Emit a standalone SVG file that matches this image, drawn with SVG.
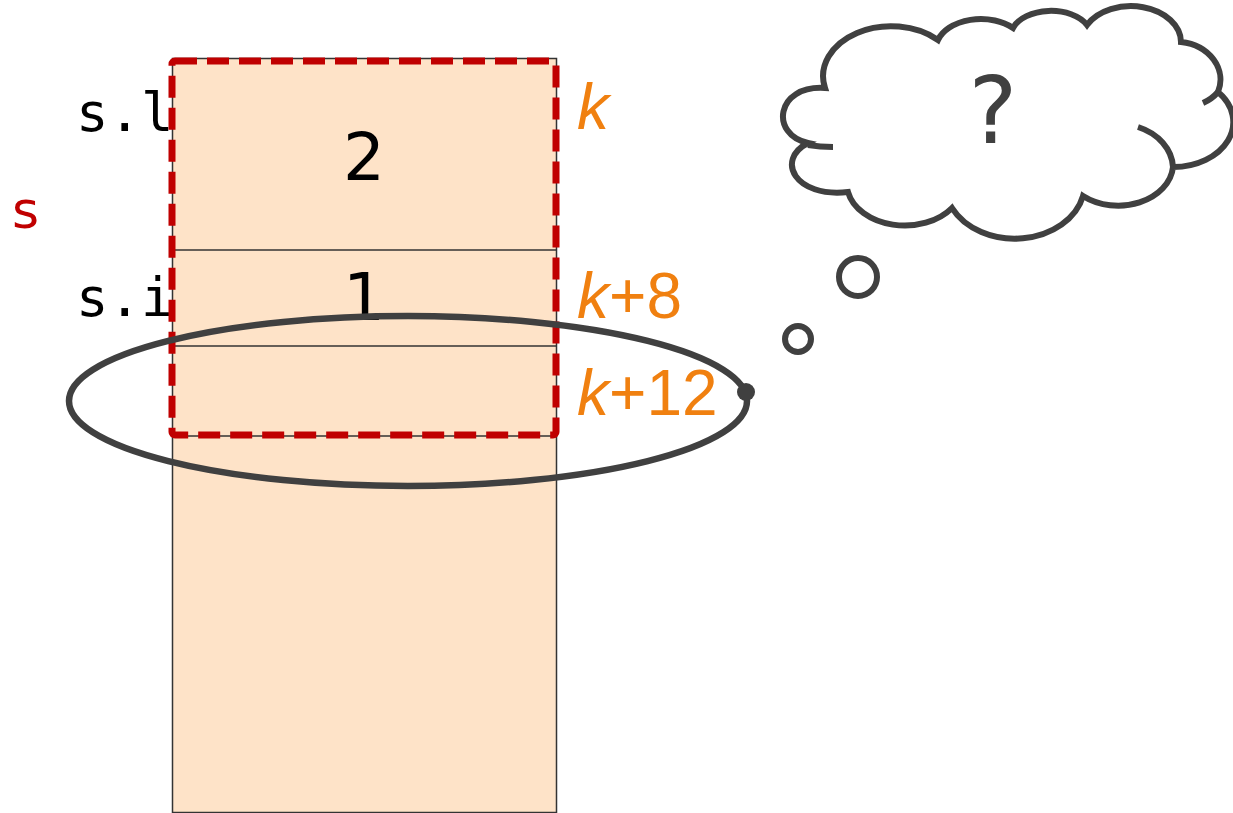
<svg xmlns="http://www.w3.org/2000/svg" width="1233" height="813" viewBox="0 0 1233 813">
<style>
.mono{font-family:"DejaVu Sans Mono","Liberation Mono",monospace;font-size:54px;fill:#000}
.num{font-family:"DejaVu Sans","Liberation Sans",sans-serif;font-size:66px;fill:#000;text-anchor:middle}
.off{font-family:"Liberation Sans",Arial,sans-serif;font-size:64px;fill:#f08010}
.dark{fill:none;stroke:#404040;stroke-width:6}
</style>
<rect width="1233" height="813" fill="#fff"/>
<g id="memory">
<rect x="172.5" y="58.5" width="384" height="754" fill="#fee3c8" stroke="#333" stroke-width="1.5"/>
<line x1="172.5" y1="250" x2="556.5" y2="250" stroke="#333" stroke-width="1.5"/>
<line x1="172.5" y1="346" x2="556.5" y2="346" stroke="#333" stroke-width="1.5"/>
<line x1="172.5" y1="436" x2="556.5" y2="436" stroke="#333" stroke-width="1.5"/>
<text class="num" x="364" y="180">2</text>
<text class="num" x="364" y="320">1</text>
</g>
<g id="labels">
<text class="mono" x="76" y="131">s.l</text>
<text class="mono" x="76" y="316">s.i</text>
<text x="12" y="228" font-family="DejaVu Sans,sans-serif" font-size="52" fill="#c00000">s</text>
<text class="off" x="577" y="129"><tspan font-style="italic">k</tspan></text>
<text class="off" x="577" y="318"><tspan font-style="italic">k</tspan>+8</text>
<text class="off" x="577" y="415"><tspan font-style="italic">k</tspan>+12</text>
</g>
<g id="struct-s">
<rect x="172" y="61" width="384" height="374" rx="3" fill="none" stroke="#c00000" stroke-width="7" stroke-dasharray="22 10"/>
</g>
<g id="connectors">
<ellipse cx="408" cy="401" rx="339" ry="85" fill="none" stroke="#404040" stroke-width="6.5"/>
<circle cx="746" cy="392" r="9" fill="#404040"/>
</g>
<g id="thought">
<circle class="dark" cx="858" cy="277" r="19"/>
<circle class="dark" cx="798" cy="339" r="13"/>
<path class="dark" fill="#fff" d="M825,88 A68,50 0 0 1 938,40 A45,30 0 0 1 1013,28 A40,25 0 0 1 1087,25 A50,36 0 0 1 1181,42 A45,38 0 0 1 1218,92 A60,45 0 0 1 1173,167 A55,42 0 0 1 1083,196 A70,55 0 0 1 952,208 A58,42 0 0 1 848,192 C795,198 775,160 808,143 C770,135 775,85 825,88 Z"/>
<path class="dark" d="M1138,127 A55,45 0 0 1 1173,167"/>
<path class="dark" d="M808,145 Q820,147 833,147"/>
<path class="dark" d="M1218,92 Q1212,99 1203,103"/>
<text x="993" y="143" font-family="DejaVu Sans,sans-serif" font-size="92" fill="#404040" text-anchor="middle">?</text>
</g>
</svg>
